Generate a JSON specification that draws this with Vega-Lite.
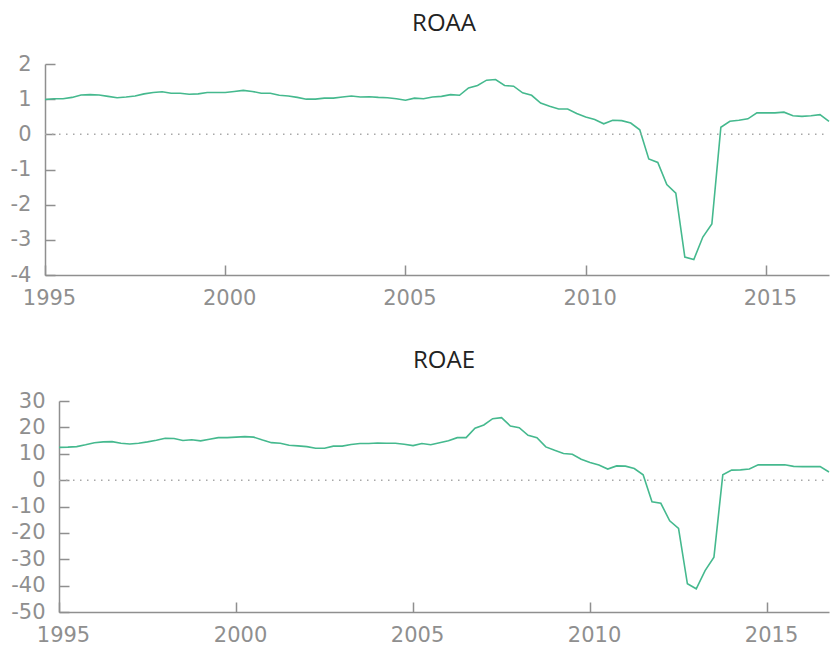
{
  "$schema": "https://vega.github.io/schema/vega-lite/v6.json",
  "background": "white",
  "padding": {"left": 10, "right": 0, "top": 12, "bottom": 0},
  "datasets": {
    "d": [
      {"t": 1995.00, "roaa": 0.99, "roae": 12.4},
      {"t": 1995.25, "roaa": 1.01, "roae": 12.5},
      {"t": 1995.50, "roaa": 1.01, "roae": 12.7},
      {"t": 1995.75, "roaa": 1.05, "roae": 13.4},
      {"t": 1996.00, "roaa": 1.12, "roae": 14.2},
      {"t": 1996.25, "roaa": 1.13, "roae": 14.5},
      {"t": 1996.50, "roaa": 1.12, "roae": 14.6},
      {"t": 1996.75, "roaa": 1.08, "roae": 14.0},
      {"t": 1997.00, "roaa": 1.04, "roae": 13.7},
      {"t": 1997.25, "roaa": 1.06, "roae": 14.0},
      {"t": 1997.50, "roaa": 1.09, "roae": 14.5},
      {"t": 1997.75, "roaa": 1.15, "roae": 15.1},
      {"t": 1998.00, "roaa": 1.19, "roae": 15.9},
      {"t": 1998.25, "roaa": 1.21, "roae": 15.8},
      {"t": 1998.50, "roaa": 1.17, "roae": 15.0},
      {"t": 1998.75, "roaa": 1.17, "roae": 15.3},
      {"t": 1999.00, "roaa": 1.14, "roae": 14.9},
      {"t": 1999.25, "roaa": 1.15, "roae": 15.5},
      {"t": 1999.50, "roaa": 1.19, "roae": 16.1},
      {"t": 1999.75, "roaa": 1.19, "roae": 16.1},
      {"t": 2000.00, "roaa": 1.19, "roae": 16.3},
      {"t": 2000.25, "roaa": 1.22, "roae": 16.5},
      {"t": 2000.50, "roaa": 1.25, "roae": 16.3},
      {"t": 2000.75, "roaa": 1.22, "roae": 15.2},
      {"t": 2001.00, "roaa": 1.17, "roae": 14.2},
      {"t": 2001.25, "roaa": 1.17, "roae": 14.0},
      {"t": 2001.50, "roaa": 1.11, "roae": 13.2},
      {"t": 2001.75, "roaa": 1.09, "roae": 13.0},
      {"t": 2002.00, "roaa": 1.05, "roae": 12.7},
      {"t": 2002.25, "roaa": 1.00, "roae": 12.1},
      {"t": 2002.50, "roaa": 1.00, "roae": 12.1},
      {"t": 2002.75, "roaa": 1.03, "roae": 12.9},
      {"t": 2003.00, "roaa": 1.03, "roae": 12.9},
      {"t": 2003.25, "roaa": 1.06, "roae": 13.5},
      {"t": 2003.50, "roaa": 1.09, "roae": 13.9},
      {"t": 2003.75, "roaa": 1.06, "roae": 13.9},
      {"t": 2004.00, "roaa": 1.07, "roae": 14.1},
      {"t": 2004.25, "roaa": 1.05, "roae": 14.0},
      {"t": 2004.50, "roaa": 1.04, "roae": 14.0},
      {"t": 2004.75, "roaa": 1.01, "roae": 13.6},
      {"t": 2005.00, "roaa": 0.97, "roae": 13.1},
      {"t": 2005.25, "roaa": 1.03, "roae": 13.9},
      {"t": 2005.50, "roaa": 1.01, "roae": 13.4},
      {"t": 2005.75, "roaa": 1.06, "roae": 14.2},
      {"t": 2006.00, "roaa": 1.08, "roae": 14.9},
      {"t": 2006.25, "roaa": 1.13, "roae": 16.1},
      {"t": 2006.50, "roaa": 1.11, "roae": 16.1},
      {"t": 2006.75, "roaa": 1.32, "roae": 19.7},
      {"t": 2007.00, "roaa": 1.39, "roae": 20.9},
      {"t": 2007.25, "roaa": 1.54, "roae": 23.3},
      {"t": 2007.50, "roaa": 1.56, "roae": 23.7},
      {"t": 2007.75, "roaa": 1.39, "roae": 20.5},
      {"t": 2008.00, "roaa": 1.37, "roae": 19.9},
      {"t": 2008.25, "roaa": 1.18, "roae": 17.0},
      {"t": 2008.50, "roaa": 1.11, "roae": 16.1},
      {"t": 2008.75, "roaa": 0.89, "roae": 12.6},
      {"t": 2009.00, "roaa": 0.80, "roae": 11.3},
      {"t": 2009.25, "roaa": 0.72, "roae": 10.1},
      {"t": 2009.50, "roaa": 0.72, "roae": 9.8},
      {"t": 2009.75, "roaa": 0.59, "roae": 7.9},
      {"t": 2010.00, "roaa": 0.49, "roae": 6.7},
      {"t": 2010.25, "roaa": 0.42, "roae": 5.7},
      {"t": 2010.50, "roaa": 0.30, "roae": 4.2},
      {"t": 2010.75, "roaa": 0.40, "roae": 5.4},
      {"t": 2011.00, "roaa": 0.39, "roae": 5.3},
      {"t": 2011.25, "roaa": 0.32, "roae": 4.4},
      {"t": 2011.50, "roaa": 0.13, "roae": 2.0},
      {"t": 2011.75, "roaa": -0.70, "roae": -8.2},
      {"t": 2012.00, "roaa": -0.80, "roae": -8.8},
      {"t": 2012.25, "roaa": -1.43, "roae": -15.4},
      {"t": 2012.50, "roaa": -1.67, "roae": -18.3},
      {"t": 2012.75, "roaa": -3.49, "roae": -39.3},
      {"t": 2013.00, "roaa": -3.56, "roae": -41.2},
      {"t": 2013.25, "roaa": -2.92, "roae": -34.3},
      {"t": 2013.50, "roaa": -2.55, "roae": -29.2},
      {"t": 2013.75, "roaa": 0.20, "roae": 2.0},
      {"t": 2014.00, "roaa": 0.37, "roae": 3.8},
      {"t": 2014.25, "roaa": 0.40, "roae": 3.9},
      {"t": 2014.50, "roaa": 0.44, "roae": 4.2},
      {"t": 2014.75, "roaa": 0.61, "roae": 5.8},
      {"t": 2015.00, "roaa": 0.61, "roae": 5.8},
      {"t": 2015.25, "roaa": 0.61, "roae": 5.8},
      {"t": 2015.50, "roaa": 0.63, "roae": 5.8},
      {"t": 2015.75, "roaa": 0.53, "roae": 5.2},
      {"t": 2016.00, "roaa": 0.51, "roae": 5.1},
      {"t": 2016.25, "roaa": 0.53, "roae": 5.1},
      {"t": 2016.50, "roaa": 0.56, "roae": 5.1},
      {"t": 2016.75, "roaa": 0.37, "roae": 3.1}
    ]
  },
  "concat": [
    {
      "width": 770,
      "height": 211,
      "title": {"text": "ROAA"},
      "resolve": {"axis": {"x": "independent", "y": "independent"}},
      "layer": [
        {
          "data": {"name": "d"},
          "mark": {"type": "line", "color": "#45b98e", "strokeWidth": 1.6},
          "encoding": {
            "x": {"field": "t", "type": "quantitative", "scale": {"domain": [1995, 2016.75], "range": [-14, 770], "nice": false, "zero": false},
                  "axis": {"values": [1995, 2000, 2005, 2010, 2015], "ticks": false, "labelExpr": "'' + datum.value"}},
            "y": {"field": "roaa", "type": "quantitative", "scale": {"domain": [-4, 2], "nice": false},
                  "axis": {"values": [-4, -3, -2, -1, 0, 1, 2], "ticks": false, "offset": 14, "labelExpr": "'' + datum.value"}}
          }
        },
        {
          "data": {"values": [{}]},
          "mark": {"type": "rule", "color": "#a8a8a8", "strokeDash": [1.5, 5.5], "strokeWidth": 1.5},
          "encoding": {
            "x": {"datum": 1995, "type": "quantitative",
                  "axis": {"orient": "top", "offset": -211, "values": [1995, 2000, 2005, 2010, 2015], "labels": false, "domain": false, "ticks": true, "tickSize": 10}},
            "x2": {"datum": 2016.75},
            "y": {"datum": 0, "type": "quantitative",
                  "axis": {"orient": "right", "offset": -784, "values": [-4, -3, -2, -1, 0, 1, 2], "labels": false, "domain": false, "ticks": true, "tickSize": 10}}
          }
        }
      ]
    },
    {
      "width": 770,
      "height": 211,
      "title": {"text": "ROAE"},
      "resolve": {"axis": {"x": "independent", "y": "independent"}},
      "layer": [
        {
          "data": {"name": "d"},
          "mark": {"type": "line", "color": "#45b98e", "strokeWidth": 1.6},
          "encoding": {
            "x": {"field": "t", "type": "quantitative", "scale": {"domain": [1995, 2016.75], "nice": false, "zero": false},
                  "axis": {"values": [1995, 2000, 2005, 2010, 2015], "ticks": false, "labelExpr": "'' + datum.value"}},
            "y": {"field": "roae", "type": "quantitative", "scale": {"domain": [-50, 30], "nice": false},
                  "axis": {"values": [-50, -40, -30, -20, -10, 0, 10, 20, 30], "ticks": false, "labelExpr": "'' + datum.value"}}
          }
        },
        {
          "data": {"values": [{}]},
          "mark": {"type": "rule", "color": "#a8a8a8", "strokeDash": [1.5, 5.5], "strokeWidth": 1.5},
          "encoding": {
            "x": {"datum": 1995, "type": "quantitative",
                  "axis": {"orient": "top", "offset": -211, "values": [1995, 2000, 2005, 2010, 2015], "labels": false, "domain": false, "ticks": true, "tickSize": 10}},
            "x2": {"datum": 2016.75},
            "y": {"datum": 0, "type": "quantitative",
                  "axis": {"orient": "right", "offset": -770, "values": [-50, -40, -30, -20, -10, 0, 10, 20, 30], "labels": false, "domain": false, "ticks": true, "tickSize": 10}}
          }
        }
      ]
    }
  ],
  "columns": 1,
  "spacing": 41,
  "resolve": {"scale": {"x": "independent", "y": "independent"}},
  "config": {
    "view": {"stroke": null},
    "axis": {
      "grid": false,
      "title": null,
      "domainColor": "#8f8f8f",
      "domainWidth": 1.5,
      "tickColor": "#8f8f8f",
      "tickWidth": 1.5,
      "labelPadding": 14,
      "labelOverlap": false,
      "labelFlush": false,
      "labelColor": "#8f8f8f",
      "labelFont": "DejaVu Sans",
      "labelFontSize": 21
    },
    "axisX": {"labelOffset": 4, "labelPadding": 12},
    "title": {"font": "Open Sans", "fontSize": 24, "fontWeight": "normal", "color": "#222222", "anchor": "middle", "offset": 17}
  }
}
